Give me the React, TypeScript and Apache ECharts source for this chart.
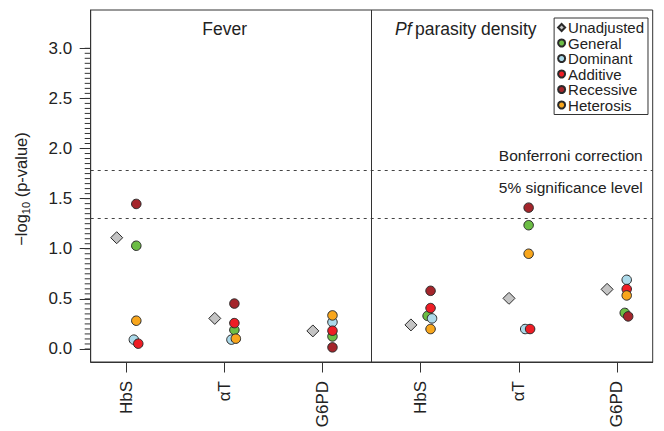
import React, { useEffect, useRef } from "react";
import * as echarts from "echarts";

// ---- data ----
const categories = ["HbS", "αT", "G6PD", "HbS", "αT", "G6PD"];
const xTickValues = [1, 2, 3, 4, 5, 6];
const yTickValues = [0, 0.5, 1, 1.5, 2, 2.5, 3];
const panelTitles = ["Fever", "Pf parasity density"];

const seriesNames = ["Unadjusted", "General", "Dominant", "Additive", "Recessive", "Heterosis"];
const seriesColors = ["#c4c4c4", "#6cbd45", "#acdaea", "#ee1d25", "#a4252b", "#f8a61c"];

const unadjustedX = [0.9, 1.9, 2.9, 3.9, 4.9, 5.9];
const unadjustedY = [1.11, 0.305, 0.18, 0.24, 0.505, 0.595];
const generalX = [1.1, 2.1, 3.1, 4.07, 5.1, 6.08];
const generalY = [1.03, 0.19, 0.125, 0.33, 1.235, 0.36];
const dominantX = [1.075, 2.07, 3.1, 4.115, 5.065, 6.1];
const dominantY = [0.093, 0.093, 0.268, 0.305, 0.199, 0.69];
const additiveX = [1.12, 2.1, 3.1, 4.1, 5.115, 6.1];
const additiveY = [0.053, 0.258, 0.182, 0.408, 0.199, 0.598];
const recessiveX = [1.1, 2.1, 3.1, 4.1, 5.1, 6.115];
const recessiveY = [1.447, 0.453, 0.016, 0.58, 1.41, 0.325];
const heterosisX = [1.1, 2.115, 3.1, 4.1, 5.1, 6.1];
const heterosisY = [0.282, 0.103, 0.335, 0.199, 0.95, 0.534];

const bonferroniLevel = 1.778;
const significanceLevel = 1.301;
const panelDivider = 3.5;

const xs = [unadjustedX, generalX, dominantX, additiveX, recessiveX, heterosisX];
const ys = [unadjustedY, generalY, dominantY, additiveY, recessiveY, heterosisY];

const FONT = "'Liberation Sans', Arial, Helvetica, sans-serif";
const TEXT = "#222";
const LINE = "#333";
const X_MIN = 0.635;
const X_MAX = 6.365;
const Y_MIN = -0.13;
const Y_MAX = 3.382;

// minor tick positions on the y axis (every 0.05 from 0 to 3)
const minorTickValues: number[] = [];
for (let i = 0; i <= 60; i++) minorTickValues.push(Math.round(i * 5) / 100);

export default function App() {
  const ref = useRef<HTMLDivElement>(null);
  useEffect(() => {
    if (!ref.current) return;
    const chart = echarts.init(ref.current, null, { renderer: "svg" });
    const series: any[] = seriesNames.map((name, i) => ({
      name,
      type: "scatter",
      symbol: i === 0 ? "diamond" : "circle",
      symbolSize: i === 0 ? 12 : 9.5,
      itemStyle: { color: seriesColors[i], borderColor: "#2a2a2a", borderWidth: 1, opacity: 1 },
      data: xs[i].map((x, k) => [x, ys[i][k]]),
      z: 3 + i,
      emphasis: { disabled: true },
    }));
    series[0].markLine = {
      silent: true,
      symbol: ["none", "none"],
      animation: false,
      data: [
        {
          yAxis: bonferroniLevel,
          lineStyle: { type: [3, 4], color: "#444", width: 1.1 },
          label: {
            show: true,
            position: "insideEndTop",
            distance: [10, 7],
            formatter: "Bonferroni correction",
            fontSize: 15.5,
            fontFamily: FONT,
            color: TEXT,
          },
        },
        {
          yAxis: significanceLevel,
          lineStyle: { type: [3, 4], color: "#444", width: 1.1 },
          label: {
            show: true,
            position: "insideEndTop",
            distance: [10, 23],
            formatter: "5% significance level",
            fontSize: 15.5,
            fontFamily: FONT,
            color: TEXT,
          },
        },
        {
          xAxis: panelDivider,
          lineStyle: { type: "solid", color: LINE, width: 1 },
          label: { show: false },
        },
      ],
    };

    const baseGraphic: any[] = [
      {
        type: "text",
        x: 224.7,
        y: 29,
        style: { text: panelTitles[0], align: "center", verticalAlign: "middle", fontSize: 17.5, fontFamily: FONT, fill: TEXT },
      },
      {
        type: "text",
        x: 465.8,
        y: 29,
        style: {
          text: "{i|Pf} {n|parasity density}",
          align: "center",
          verticalAlign: "middle",
          fontFamily: FONT,
          fill: TEXT,
          rich: {
            i: { fontSize: 17.5, fontStyle: "italic", fontFamily: FONT, fill: TEXT },
            n: { fontSize: 17.5, fontFamily: FONT, fill: TEXT },
          },
        },
      },
      {
        type: "text",
        x: 21,
        y: 189,
        rotation: Math.PI / 2,
        style: {
          text: "{n|−log}{s|10}{n| (p-value)}",
          align: "center",
          verticalAlign: "middle",
          fontFamily: FONT,
          fill: TEXT,
          rich: {
            n: { fontSize: 16.5, fontFamily: FONT, fill: TEXT, lineHeight: 22, verticalAlign: "middle" },
            s: { fontSize: 11, fontFamily: FONT, fill: TEXT, lineHeight: 22, padding: [10, 0, 0, 0], verticalAlign: "middle" },
          },
        },
      },
    ];

    chart.setOption({
      animation: false,
      backgroundColor: "#ffffff",
      textStyle: { fontFamily: FONT },
      grid: {
        left: 90.7,
        right: 11.3,
        top: 10,
        bottom: 69,
        show: true,
        borderColor: LINE,
        borderWidth: 1,
      },
      legend: {
        orient: "vertical",
        right: 16,
        top: 18,
        data: seriesNames,
        itemWidth: 7,
        itemHeight: 7,
        itemGap: 0.5,
        padding: [2, 4, 2, 3],
        borderColor: LINE,
        borderWidth: 1,
        backgroundColor: "#fff",
        selectedMode: false,
        textStyle: { fontSize: 15, color: TEXT, fontFamily: FONT, padding: [0, 0, 0, -2] },
      },
      xAxis: {
        type: "value",
        min: X_MIN,
        max: X_MAX,
        position: "bottom",
        axisLine: { show: true, onZero: false, lineStyle: { color: LINE } },
        splitLine: { show: false },
        axisTick: { show: true, customValues: xTickValues, length: 10.5, lineStyle: { color: LINE } },
        axisLabel: {
          customValues: xTickValues,
          formatter: (v: number) => categories[Math.round(v) - 1] ?? "",
          rotate: 90,
          margin: 19,
          fontSize: 17,
          color: TEXT,
          fontFamily: FONT,
        },
      },
      yAxis: {
        type: "value",
        min: Y_MIN,
        max: Y_MAX,
        position: "left",
        axisLine: { show: true, onZero: false, lineStyle: { color: LINE } },
        splitLine: { show: false },
        axisTick: { show: true, customValues: yTickValues, length: 11, lineStyle: { color: LINE } },
        axisLabel: {
          customValues: yTickValues,
          formatter: (v: number) => v.toFixed(1),
          margin: 18.5,
          fontSize: 17,
          color: TEXT,
          fontFamily: FONT,
        },
      },
      graphic: baseGraphic,
      series,
    });

    // minor ticks placed through the axes' own scales
    const axisX = chart.convertToPixel({ xAxisIndex: 0 }, X_MIN) as number;
    const tickLines = minorTickValues.map((v) => {
      const py = chart.convertToPixel({ yAxisIndex: 0 }, v) as number;
      return {
        type: "line",
        silent: true,
        shape: { x1: axisX - 6, y1: py, x2: axisX, y2: py },
        style: { stroke: LINE, lineWidth: 1 },
      };
    });
    chart.setOption({
      graphic: [...baseGraphic, { type: "group", id: "minorTicks", silent: true, children: tickLines }],
    });

    return () => chart.dispose();
  }, []);
  return (
    <div
      ref={ref}
      style={{ position: "fixed", left: 0, top: 0, width: 664, height: 431, background: "#fff" }}
    />
  );
}
